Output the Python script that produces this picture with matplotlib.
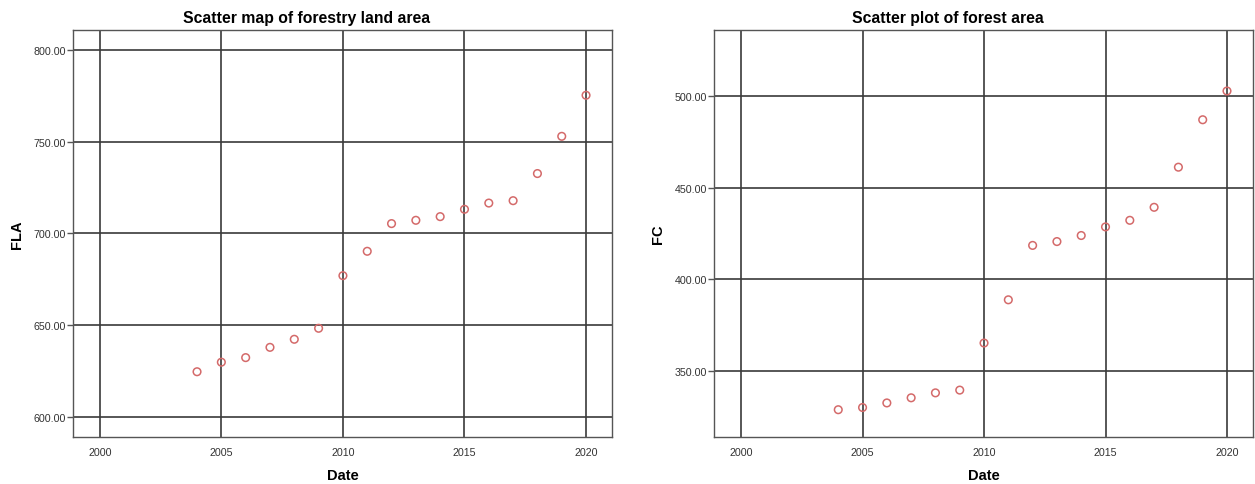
import matplotlib
matplotlib.use('Agg')
import matplotlib.pyplot as plt
from matplotlib.ticker import FormatStrFormatter

plt.rcParams['font.family'] = ['Liberation Sans', 'DejaVu Sans']

years = [2004, 2005, 2006, 2007, 2008, 2009, 2010, 2011, 2012,
         2013, 2014, 2015, 2016, 2017, 2018, 2019, 2020]

# forestry land area
fla = [624.5, 629.7, 632.2, 637.8, 642.2, 648.2, 676.9, 690.2, 705.3,
       707.1, 709.1, 713.1, 716.5, 717.8, 732.6, 752.9, 775.3]

# forest area
fc = [328.9, 330.1, 332.6, 335.4, 338.1, 339.6, 365.3, 388.9, 418.6,
      420.7, 424.0, 428.7, 432.3, 439.4, 461.3, 487.2, 502.9]

x_ticks = [2000, 2005, 2010, 2015, 2020]

fig = plt.figure(figsize=(12.55, 4.85), dpi=100)
ax1 = fig.add_axes([0.0582, 0.0969, 0.4295, 0.8392])
ax2 = fig.add_axes([0.5692, 0.0969, 0.4292, 0.8392])

panels = [
    (ax1, fla, 'FLA', 'Scatter map of forestry land area', (588.9, 810.9), [600, 650, 700, 750, 800]),
    (ax2, fc, 'FC', 'Scatter plot of forest area', (314.0, 536.2), [350, 400, 450, 500]),
]

for ax, vals, ylab, title, ylim, yt in panels:
    ax.set_axisbelow(True)
    ax.grid(True, color='#3a3a3a', linewidth=1.2)
    ax.scatter(years, vals, s=30, facecolors='none', edgecolors='#d46a6a',
               linewidths=1.1, zorder=3)
    ax.set_xlim(1998.9, 2021.07)
    ax.set_ylim(*ylim)
    ax.set_xticks(x_ticks)
    ax.set_yticks(yt)
    ax.yaxis.set_major_formatter(FormatStrFormatter('%.2f'))
    ax.tick_params(axis='x', length=0, pad=7, labelsize=7.7, labelcolor='#333333')
    ax.tick_params(axis='y', length=4, width=1, color='#555555', pad=1,
                   labelsize=7.7, labelcolor='#333333')
    for sp in ax.spines.values():
        sp.set_color('#555555')
        sp.set_linewidth(1.0)
    # title sits over the whole panel, y label included
    ax.set_title(title, fontsize=11.3, fontweight='bold', pad=6, x=0.433)
    ax.set_xlabel('Date', fontsize=10.5, fontweight='bold', labelpad=8)
    ax.set_ylabel(ylab, fontsize=10.5, fontweight='bold', labelpad=7)

fig.savefig('out.png', dpi=100)
